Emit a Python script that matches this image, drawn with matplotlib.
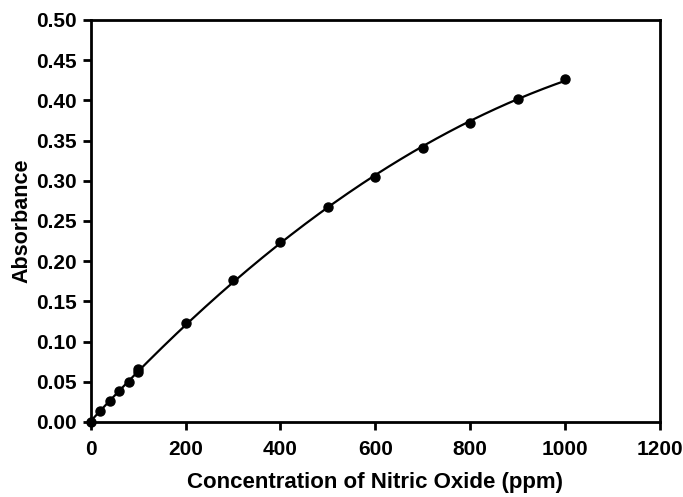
import numpy as np
import matplotlib.pyplot as plt

plt.rcParams['font.family'] = ['Liberation Sans', 'DejaVu Sans']
plt.rcParams['font.weight'] = 'bold'

# concentration (ppm) and absorbance
conc = [0, 20, 40, 60, 80, 100, 100, 200, 300, 400, 500, 600, 700, 800, 900, 1000]
absorb = [0.000, 0.013, 0.026, 0.038, 0.050, 0.062, 0.066, 0.123, 0.176, 0.224,
          0.267, 0.305, 0.341, 0.372, 0.401, 0.427]

xticks = [0, 200, 400, 600, 800, 1000, 1200]
yticks = [0.00, 0.05, 0.10, 0.15, 0.20, 0.25, 0.30, 0.35, 0.40, 0.45, 0.50]

# fitted curve (quadratic through the data)
coef = np.polyfit(conc, absorb, 2)
xs = np.linspace(0, 1000, 200)
ys = np.polyval(coef, xs)

fig = plt.figure(figsize=(6.83, 4.97), dpi=100)
ax = fig.add_axes([0.133, 0.151, 0.833, 0.809])

ax.plot(xs, ys, color='black', lw=1.6)
ax.plot(conc, absorb, 'o', color='black', ms=6.5, clip_on=False, zorder=3)

ax.set_xlim(0, 1200)
ax.set_ylim(0, 0.5)
ax.set_xticks(xticks)
ax.set_yticks(yticks)
ax.set_yticklabels([f'{v:.2f}' for v in yticks])
ax.tick_params(direction='out', length=6, width=2, labelsize=15)
ax.tick_params(axis='x', pad=7)
ax.tick_params(axis='y', pad=4)
for s in ax.spines.values():
    s.set_linewidth(2)

ax.set_xlabel('Concentration of Nitric Oxide (ppm)', fontsize=16, fontweight='bold', labelpad=9)
ax.set_ylabel('Absorbance', fontsize=15.5, fontweight='bold', labelpad=3)

plt.savefig('out.png', dpi=100)
